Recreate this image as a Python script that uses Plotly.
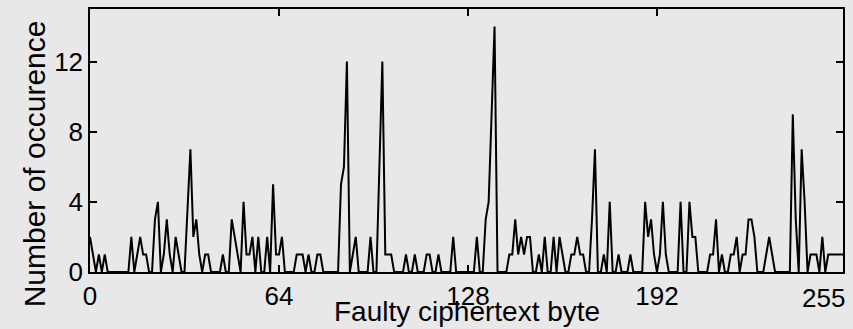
import plotly.graph_objects as go

# Occurrence counts per faulty ciphertext byte value
counts_000_063 = [2,1,0,1,0,1,0,0,0,0,0,0,0,0,2,0,
                  1,2,1,1,0,0,3,4,0,1,3,1,0,2,1,0,
                  0,4,7,2,3,1,0,1,1,0,0,0,0,1,0,0,
                  3,2,1,0,4,1,1,2,0,2,0,0,2,0,5,1]
counts_064_127 = [1,2,0,0,0,0,1,1,1,0,1,0,0,1,1,0,
                  0,0,0,0,0,5,6,12,0,1,2,0,0,0,0,2,
                  0,0,6,12,1,1,1,0,0,0,0,1,0,0,1,0,
                  0,0,1,1,0,0,1,0,0,0,0,2,0,0,0,0]
counts_128_191 = [0,0,0,2,0,0,3,4,9,14,0,0,0,0,1,1,
                  3,1,2,1,2,2,0,0,1,0,2,0,0,2,0,2,
                  1,0,0,1,1,2,1,1,0,0,3,7,0,0,1,0,
                  4,0,0,1,0,0,0,1,0,0,0,0,4,2,3,1]
counts_192_255 = [0,1,4,1,0,0,0,0,4,0,0,4,2,2,0,0,
                  0,0,1,1,3,0,1,0,0,1,1,2,0,1,1,3,
                  3,2,0,0,0,1,2,1,0,0,0,0,0,0,9,3,
                  0,7,4,0,1,1,1,0,2,0,1,1,1,1,1,1]

counts = counts_000_063 + counts_064_127 + counts_128_191 + counts_192_255
byte_values = list(range(len(counts)))

x_tickvals = [0, 64, 128, 192, 255]
x_ticktext = ["0", "64", "128", "192", ""]   # last label drawn as annotation (kept inside page)
last_tick_label = "255"
y_tickvals = [0, 4, 8, 12]

x_title = "Faulty ciphertext byte"
y_title = "Number of occurence"

BG = "#e8e8e8"
FONT = "Liberation Sans, Arial, sans-serif"

fig = go.Figure()
fig.add_trace(go.Scatter(
    x=byte_values, y=counts, mode="lines",
    line=dict(color="black", width=2),
    hoverinfo="x+y", showlegend=False,
))

axis_common = dict(
    showline=True, linecolor="black", linewidth=1.5, mirror="ticks",
    ticks="inside", ticklen=7, tickwidth=1.5, tickcolor="black",
    showgrid=False, zeroline=False,
    tickfont=dict(family=FONT, size=26, color="black"),
)

fig.update_layout(
    width=853, height=329,
    margin=dict(l=90, r=10, t=7, b=57),
    paper_bgcolor=BG, plot_bgcolor=BG,
    xaxis=dict(range=[0, 255], tickvals=x_tickvals, ticktext=x_ticktext, **axis_common),
    yaxis=dict(range=[0, 15], tickvals=y_tickvals, **axis_common),
    annotations=[
        dict(text=last_tick_label, xref="x", yref="paper", x=x_tickvals[-1], y=-0.035,
             xanchor="right", yanchor="top", xshift=4, showarrow=False,
             font=dict(family=FONT, size=26, color="black")),
        dict(text=x_title, xref="paper", yref="paper", x=0.5, y=-0.152,
             xanchor="center", yanchor="middle", showarrow=False,
             font=dict(family=FONT, size=28, color="black")),
        dict(text=y_title, xref="paper", yref="paper", x=-0.0744, y=0.413,
             xanchor="center", yanchor="middle", textangle=-90, showarrow=False,
             font=dict(family=FONT, size=30, color="black")),
    ],
)

fig.write_html("out.html")
